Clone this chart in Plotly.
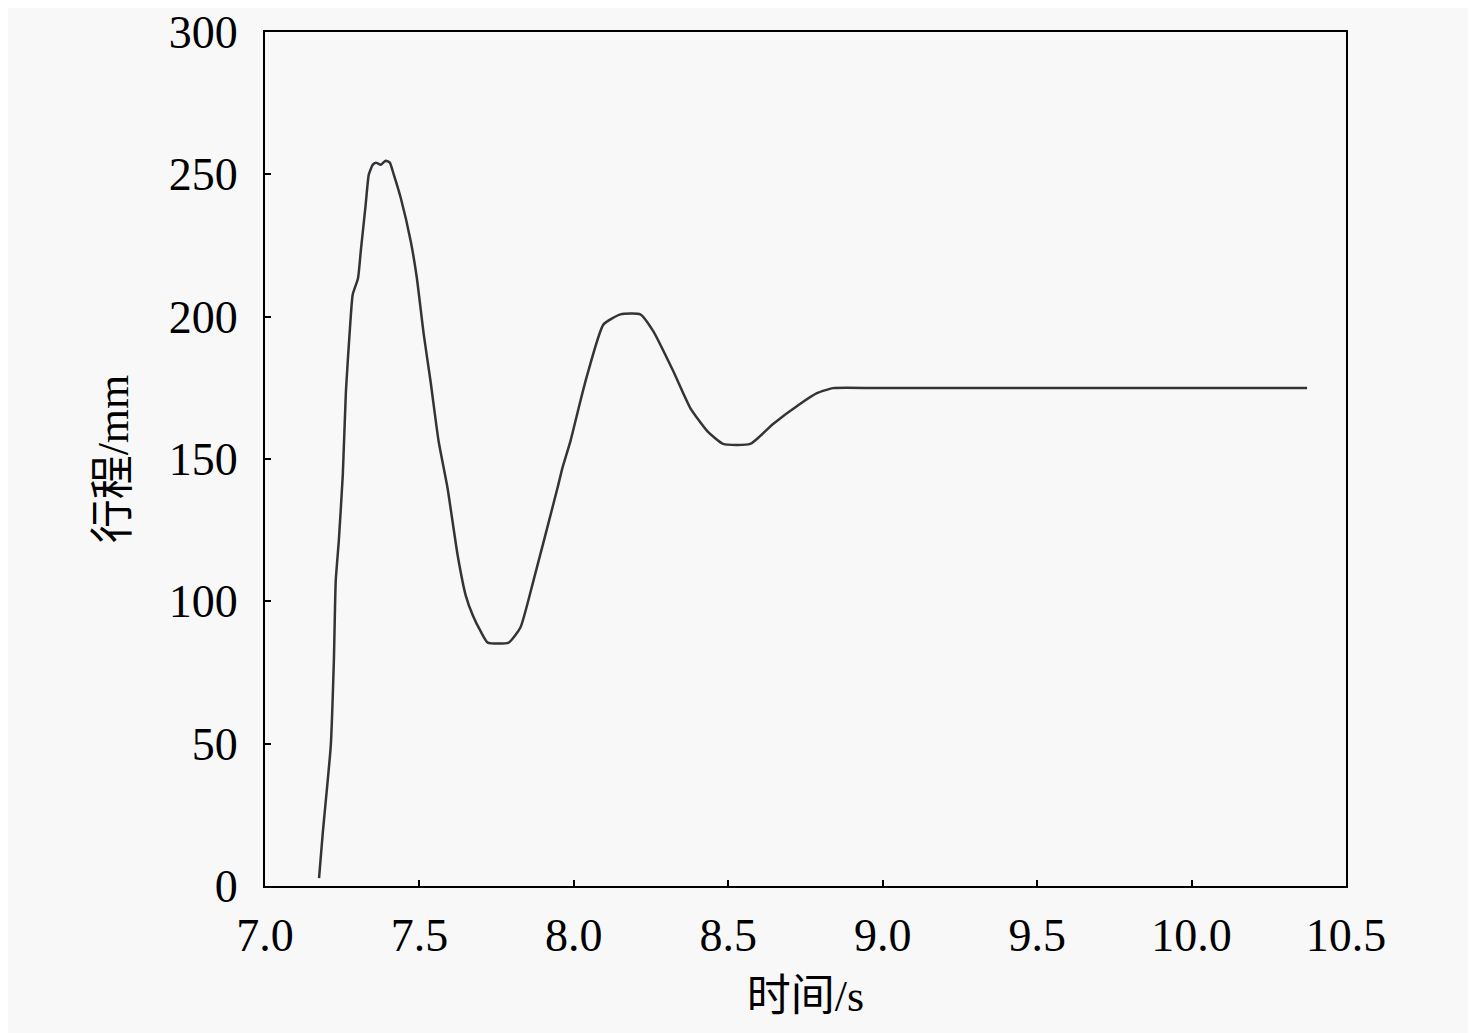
import plotly.graph_objects as go

# 时间 (s) 与 行程 (mm)
time_s = [7.175, 7.187, 7.213, 7.223, 7.229, 7.239, 7.252, 7.262, 7.275, 7.284,
          7.301, 7.310, 7.326, 7.336, 7.349, 7.359, 7.375, 7.391, 7.404, 7.417,
          7.440, 7.472, 7.491, 7.514, 7.536, 7.562, 7.591, 7.624, 7.650, 7.673,
          7.698, 7.721, 7.789, 7.827, 7.869, 7.947, 7.963, 7.989, 8.021, 8.044,
          8.096, 8.151, 8.215, 8.257, 8.322, 8.377, 8.432, 8.483, 8.571, 8.645,
          8.732, 8.787, 8.839, 8.991, 10.374]
stroke_mm = [2.8, 18.6, 49.4, 79.2, 107.2, 121.3, 144.7, 173.8, 195.9, 207.8,
             213.4, 222.9, 239.4, 249.9, 253.4, 254.1, 253.4, 254.8, 254.1, 249.9,
             241.5, 226.4, 214.1, 193.8, 177.3, 156.3, 139.8, 116.0, 102.0, 95.0,
             89.5, 85.5, 85.5, 90.8, 107.2, 139.8, 146.9, 156.3, 170.3, 179.8,
             197.3, 200.8, 200.8, 194.9, 180.8, 167.9, 159.8, 155.3, 155.3, 162.3,
             169.3, 173.1, 174.9, 174.9, 174.9]

x_ticks = [7.0, 7.5, 8.0, 8.5, 9.0, 9.5, 10.0, 10.5]
y_ticks = [0, 50, 100, 150, 200, 250, 300]

font_family = "Liberation Serif, Noto Sans CJK SC"

fig = go.Figure(go.Scatter(
    x=time_s, y=stroke_mm, mode="lines",
    line=dict(color="#333338", width=2.5, shape="spline", smoothing=0.5),
))

axis_common = dict(
    showline=True, linecolor="black", linewidth=2, mirror=True,
    ticks="inside", ticklen=6, tickwidth=2, tickcolor="black",
    showgrid=False, zeroline=False, ticklabeloverflow="allow", automargin=False,
    tickfont=dict(family=font_family, size=46, color="black"),
)

fig.update_xaxes(
    range=[7.0, 10.5], tickvals=x_ticks, ticktext=[f"{v:.1f}" for v in x_ticks],
    title=dict(text="时间/s", font=dict(family=font_family, size=44, color="black"), standoff=20),
    ticklabelstandoff=8,
    **axis_common,
)
fig.update_yaxes(
    range=[0, 300], tickvals=y_ticks,
    title=dict(text="行程/mm", font=dict(family=font_family, size=44, color="black"), standoff=26),
    ticklabelstandoff=16,
    **axis_common,
)

fig.update_layout(
    width=1476, height=1033,
    margin=dict(l=257, r=138, t=24, b=155),
    paper_bgcolor="#f8f8f8", plot_bgcolor="#f8f8f8",
    showlegend=False,
    font=dict(family=font_family, color="black"),
)

fig.write_html("out.html")
